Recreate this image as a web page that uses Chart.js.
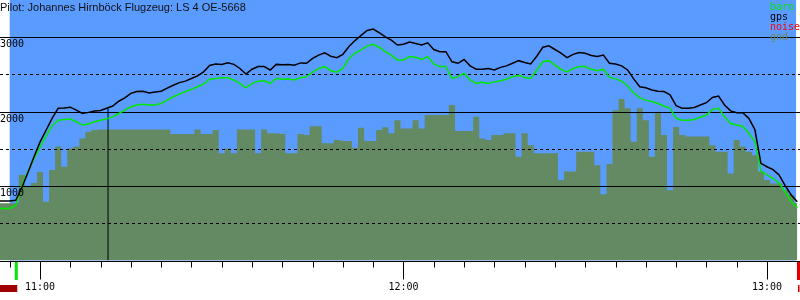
<!DOCTYPE html>
<html>
<head>
<meta charset="utf-8">
<script src="https://cdn.jsdelivr.net/npm/chart.js@4.4.1/dist/chart.umd.min.js"></script>
<style>
    html, body { margin: 0; padding: 0; background: #fff; }
    canvas { display: block; }
</style>
</head>
<body>
<canvas id="barogram" width="800" height="300"></canvas>
<script>
// one sample per minute, 10:53 .. 13:05
const times = [
    "10:53", "10:54", "10:55", "10:56", "10:57", "10:58", "10:59",
    "11:00", "11:01", "11:02", "11:03", "11:04", "11:05", "11:06", "11:07", "11:08", "11:09",
    "11:10", "11:11", "11:12", "11:13", "11:14", "11:15", "11:16", "11:17", "11:18", "11:19",
    "11:20", "11:21", "11:22", "11:23", "11:24", "11:25", "11:26", "11:27", "11:28", "11:29",
    "11:30", "11:31", "11:32", "11:33", "11:34", "11:35", "11:36", "11:37", "11:38", "11:39",
    "11:40", "11:41", "11:42", "11:43", "11:44", "11:45", "11:46", "11:47", "11:48", "11:49",
    "11:50", "11:51", "11:52", "11:53", "11:54", "11:55", "11:56", "11:57", "11:58", "11:59",
    "12:00", "12:01", "12:02", "12:03", "12:04", "12:05", "12:06", "12:07", "12:08", "12:09",
    "12:10", "12:11", "12:12", "12:13", "12:14", "12:15", "12:16", "12:17", "12:18", "12:19",
    "12:20", "12:21", "12:22", "12:23", "12:24", "12:25", "12:26", "12:27", "12:28", "12:29",
    "12:30", "12:31", "12:32", "12:33", "12:34", "12:35", "12:36", "12:37", "12:38", "12:39",
    "12:40", "12:41", "12:42", "12:43", "12:44", "12:45", "12:46", "12:47", "12:48", "12:49",
    "12:50", "12:51", "12:52", "12:53", "12:54", "12:55", "12:56", "12:57", "12:58", "12:59",
    "13:00", "13:01", "13:02", "13:03", "13:04", "13:05"
];

const gpsAlt = [
    800, 800, 800, 810, 980, 1180, 1390,
    1590, 1750, 1910, 2045, 2050, 2060, 2020, 1975, 1990, 2010,
    2015, 2045, 2075, 2140, 2185, 2245, 2270, 2275, 2250, 2265,
    2275, 2315, 2355, 2390, 2410, 2445, 2480, 2535, 2620, 2640,
    2635, 2655, 2635, 2580, 2505, 2570, 2605, 2605, 2560, 2635,
    2630, 2635, 2625, 2655, 2650, 2715, 2760, 2790, 2745, 2725,
    2770, 2875, 2955, 3025, 3090, 3110, 3060, 3005, 2960, 2895,
    2905, 2935, 2915, 2895, 2925, 2835, 2805, 2805, 2670, 2650,
    2700, 2615, 2570, 2570, 2580, 2560, 2595, 2615, 2650, 2685,
    2660, 2640, 2745, 2865, 2885, 2835, 2785, 2725, 2770, 2795,
    2785, 2755, 2740, 2760, 2650, 2640, 2615, 2560, 2440, 2335,
    2320, 2290, 2275, 2270, 2225, 2080, 2045, 2045, 2055, 2090,
    2120, 2190, 2210, 2090, 2010, 1985, 1985, 1910, 1760, 1305,
    1260, 1220, 1150, 1005, 880, 790
];

const baroAlt = [
    700, 700, 700, 740, 1010, 1195, 1365,
    1520, 1670, 1810, 1885, 1895, 1900, 1865, 1820, 1835, 1865,
    1885, 1905, 1930, 1975, 2020, 2065, 2090, 2100, 2090, 2090,
    2110, 2155, 2200, 2235, 2270, 2300, 2335, 2370, 2435, 2445,
    2455, 2455, 2425, 2380, 2320, 2380, 2410, 2415, 2380, 2445,
    2435, 2440, 2425, 2455, 2470, 2530, 2580, 2605, 2550, 2530,
    2580, 2715, 2785, 2830, 2880, 2905, 2865, 2805, 2760, 2695,
    2695, 2740, 2730, 2700, 2740, 2640, 2605, 2605, 2445, 2470,
    2515, 2425, 2380, 2395, 2380, 2400, 2415, 2435, 2470, 2490,
    2460, 2445, 2560, 2670, 2685, 2625, 2570, 2535, 2580, 2605,
    2605, 2570, 2550, 2570, 2460, 2440, 2410, 2345, 2250, 2185,
    2155, 2135, 2110, 2075, 2045, 1910, 1885, 1885, 1895, 1925,
    1955, 2030, 2045, 1930, 1840, 1820, 1805, 1710, 1600, 1200,
    1150, 1105, 1040, 920, 790, 710
];

const gndAlt = [
    770, 770, 770, 770, 1150, 990, 1040,
    1190, 790, 1215, 1530, 1260, 1505, 1530, 1640, 1730, 1755,
    1760, 1760, 1760, 1760, 1760, 1760, 1760, 1760, 1760, 1760,
    1760, 1760, 1700, 1700, 1700, 1700, 1760, 1700, 1700, 1755,
    1440, 1505, 1440, 1760, 1760, 1760, 1440, 1760, 1710, 1710,
    1700, 1440, 1440, 1700, 1685, 1805, 1805, 1575, 1575, 1620,
    1605, 1605, 1515, 1785, 1605, 1605, 1755, 1790, 1710, 1885,
    1775, 1775, 1885, 1775, 1955, 1955, 1955, 1955, 2090, 1740,
    1740, 1740, 1930, 1640, 1620, 1685, 1685, 1710, 1710, 1395,
    1710, 1550, 1440, 1440, 1440, 1440, 1080, 1195, 1195, 1460,
    1460, 1460, 1280, 890, 1295, 2020, 2170, 2045, 1595, 2045,
    1885, 1395, 2000, 1685, 945, 1795, 1685, 1665, 1665, 1665,
    1665, 1550, 1460, 1460, 1170, 1620, 1530, 1460, 1415, 1195,
    1080, 1035, 1035, 945, 880, 770
];

const yTickLabels = ["1000", "2000", "3000"];
const xTickLabels = ["11:00", "12:00", "13:00"];
const legendLabels = ["baro", "gps", "noise", "gnd"];
const title = "Pilot: Johannes Hirnböck Flugzeug: LS 4 OE-5668";

// markers
const markerTime = "11:11:14";
const markerAlt = 2045;
const takeoffTime = "10:56:05";
const landingTime = "13:05:12";
const skyStart = "10:55:00";
const skyEnd = "13:04:48";

const SKY = "#5a9bff";
const GND = "#638a63";
const BARO = "#00e800";

function toMin(s) {
    const p = s.split(":").map(Number);
    return p[0] * 60 + p[1] + (p[2] || 0) / 60;
}

const tMin = times.map(toMin);
const pts = (vals) => vals.map((v, i) => ({ x: tMin[i], y: v }));

const barogramPlugin = {
    id: "barogram",
    beforeDraw(chart) {
        const ctx = chart.ctx;
        ctx.save();
        ctx.fillStyle = "#fff";
        ctx.fillRect(0, 0, chart.width, chart.height);
        ctx.restore();
    },
    beforeDatasetsDraw(chart) {
        const { ctx, chartArea, scales } = chart;
        const x0 = scales.x.getPixelForValue(toMin(skyStart));
        const x1 = scales.x.getPixelForValue(toMin(skyEnd));
        ctx.save();
        ctx.fillStyle = SKY;
        ctx.fillRect(x0, chartArea.top, x1 - x0, chartArea.bottom - chartArea.top);
        ctx.restore();
    },
    afterDatasetDraw(chart, args) {
        // grid goes over the ground fill, under the lines
        if (chart.data.datasets[args.index].label !== "gnd") return;
        const { ctx, scales } = chart;
        ctx.save();
        ctx.strokeStyle = "#000";
        ctx.lineWidth = 1;
        for (let v = 500; v <= 3000; v += 500) {
            const y = Math.round(scales.y.getPixelForValue(v)) + 0.5;
            ctx.setLineDash(v % 1000 === 0 ? [] : [3, 3]);
            ctx.beginPath();
            ctx.moveTo(0, y);
            ctx.lineTo(chart.width, y);
            ctx.stroke();
        }
        ctx.restore();
    },
    afterDraw(chart) {
        const { ctx, scales, chartArea } = chart;
        const x = scales.x, y = scales.y;
        ctx.save();

        // y labels, just under their grid line
        ctx.font = "10px 'DejaVu Sans Mono'";
        ctx.fillStyle = "#000";
        ctx.textAlign = "left";
        ctx.textBaseline = "alphabetic";
        yTickLabels.forEach((lbl) => {
            ctx.fillText(lbl, 0, y.getPixelForValue(Number(lbl)) + 10);
        });

        // time axis
        const base = Math.round(chartArea.bottom) + 0.5;
        ctx.strokeStyle = "#000";
        ctx.lineWidth = 1;
        ctx.beginPath();
        ctx.moveTo(0, base);
        ctx.lineTo(chart.width, base);
        ctx.stroke();
        for (let m = 655; m <= 785; m += 5) {
            const px = Math.round(x.getPixelForValue(m)) + 0.5;
            ctx.beginPath();
            ctx.moveTo(px, base);
            ctx.lineTo(px, base + (m % 60 === 0 ? 18 : 6));
            ctx.stroke();
        }
        ctx.textAlign = "center";
        xTickLabels.forEach((lbl) => {
            ctx.fillText(lbl, x.getPixelForValue(toMin(lbl)), 289.5);
        });

        // takeoff / landing marks
        const tx = x.getPixelForValue(toMin(takeoffTime));
        const lx = x.getPixelForValue(toMin(landingTime));
        ctx.fillStyle = BARO;
        ctx.fillRect(tx - 1.5, base + 0.5, 3, 18);
        ctx.fillStyle = "#e00000";
        ctx.fillRect(lx - 1.5, base + 0.5, 3, 18);
        ctx.fillStyle = "#a00000";
        ctx.fillRect(0, 285, tx + 1, 7);
        ctx.fillStyle = "#e00000";
        ctx.fillRect(lx - 0.5, 285, chart.width - lx, 7);

        // title
        ctx.font = "11px 'Liberation Sans'";
        ctx.fillStyle = "#111";
        ctx.textAlign = "left";
        ctx.fillText(title, 0, 11);

        // legend
        const legendColors = [BARO, "#000", "#ff0000", "#6a8a5a"];
        ctx.font = "10px 'DejaVu Sans Mono'";
        legendLabels.forEach((lbl, i) => {
            ctx.fillStyle = legendColors[i];
            ctx.fillText(lbl, 770, 10 + i * 10);
        });

        ctx.restore();
    },
};

new Chart(document.getElementById("barogram"), {
    type: "line",
    data: {
        datasets: [
            {
                label: "gps",
                data: pts(gpsAlt),
                borderColor: "#000",
                borderWidth: 1.5,
                pointRadius: 0,
                fill: false,
            },
            {
                label: "baro",
                data: pts(baroAlt),
                borderColor: BARO,
                borderWidth: 1.5,
                pointRadius: 0,
                fill: false,
            },
            {
                label: "marker",
                data: [
                    { x: toMin(markerTime), y: 0 },
                    { x: toMin(markerTime), y: markerAlt },
                ],
                borderColor: "#000",
                borderWidth: 1,
                pointRadius: 0,
                fill: false,
            },
            {
                label: "gnd",
                data: pts(gndAlt),
                borderWidth: 0,
                borderColor: GND,
                backgroundColor: GND,
                stepped: "middle",
                pointRadius: 0,
                fill: "origin",
            },
        ],
    },
    options: {
        responsive: false,
        animation: false,
        devicePixelRatio: 1,
        layout: { padding: { left: 0, right: 0, top: 0, bottom: 39.5 } },
        scales: {
            x: {
                type: "linear",
                display: false,
                min: toMin("10:53:24"),
                max: toMin("13:05:27"),
            },
            y: {
                display: false,
                min: 0,
                max: 3500,
            },
        },
        plugins: {
            legend: { display: false },
            tooltip: { enabled: false },
        },
    },
    plugins: [barogramPlugin],
});
</script>
</body>
</html>
